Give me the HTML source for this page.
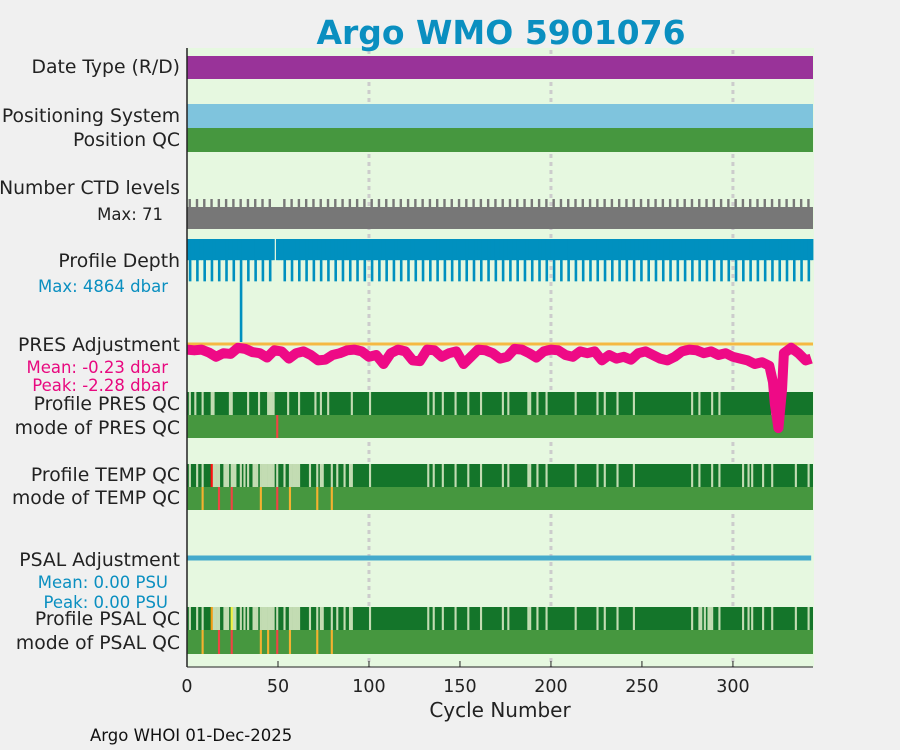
<!DOCTYPE html>
<html><head><meta charset="utf-8"><style>
body{margin:0;background:#f0f0f0;}
svg{display:block;font-family:"DejaVu Sans","Liberation Sans",sans-serif;}
</style></head><body>
<svg id="chart" width="900" height="750" viewBox="0 0 900 750">
<rect x="0" y="0" width="900" height="750" fill="#f0f0f0"/>
<rect x="187" y="48" width="627" height="619" fill="#e6f8e0"/>
<g id="grid"></g>
<g id="marks"></g>
<text x="501" y="44" text-anchor="middle" font-size="33" font-weight="bold" fill="#0a8fc0">Argo WMO 5901076</text>
<g font-size="18.8" fill="#222" text-anchor="end">
<text x="180" y="73">Date Type (R/D)</text>
<text x="180" y="122">Positioning System</text>
<text x="180" y="146">Position QC</text>
<text x="180" y="194">Number CTD levels</text>
<text x="163" y="220" font-size="16.5">Max: 71</text>
<text x="180" y="267">Profile Depth</text>
<text x="168" y="292" font-size="16.5" fill="#0a8fc0">Max: 4864 dbar</text>
<text x="180" y="351">PRES Adjustment</text>
<text x="168" y="373" font-size="16.5" fill="#e8087f">Mean: -0.23 dbar</text>
<text x="168" y="391" font-size="16.5" fill="#e8087f">Peak: -2.28 dbar</text>
<text x="180" y="410">Profile PRES QC</text>
<text x="180" y="434">mode of PRES QC</text>
<text x="180" y="481">Profile TEMP QC</text>
<text x="180" y="504">mode of TEMP QC</text>
<text x="180" y="566">PSAL Adjustment</text>
<text x="168" y="588" font-size="16.5" fill="#0a8fc0">Mean: 0.00 PSU</text>
<text x="168" y="608" font-size="16.5" fill="#0a8fc0">Peak: 0.00 PSU</text>
<text x="180" y="625">Profile PSAL QC</text>
<text x="180" y="649">mode of PSAL QC</text>
</g>
<text x="500" y="717" text-anchor="middle" font-size="20" fill="#222">Cycle Number</text>
<text x="90" y="741" font-size="16.5" fill="#111">Argo WHOI 01-Dec-2025</text>
<g id="axes"></g>
</svg>
<script>
const xTicks = [0,50,100,150,200,250,300];
const gridCycles = [100,200,300];
const nCycles = 344;
const depthDeepCycles = [1,5,9,13,17,21,25,29,33,37,41,45,53,57,61,65,69,73,77,81,85,89,93,97,101,105,109,113,117,121,125,129,133,137,141,145,149,153,157,161,165,169,173,177,181,185,189,193,197,201,205,209,213,217,221,225,229,233,237,241,245,249,253,257,261,265,269,273,277,281,285,289,293,297,301,305,309,313,317,321,325,329,333,337,341];
const depthMissing = [48];
const depthMaxCycle = [29];
const depthValues = [1000,2000,4864];
const ctdMaxCycles = depthDeepCycles;
const presCycles = [0,4,8,12,16,20,24,28,32,36,40,44,48,52,56,60,64,68,72,76,80,84,88,92,96,100,104,108,112,116,120,124,128,132,136,140,144,148,152,156,160,164,168,172,176,180,184,188,192,196,200,204,208,212,216,220,224,228,232,236,240,244,248,252,256,260,264,268,272,276,280,284,288,292,296,300,304,308,312,316,320,322,323,325,327,328,332,336,340,343];
const presAdj = [-0.1,-0.12,-0.1,-0.18,-0.3,-0.2,-0.22,-0.05,-0.08,-0.17,-0.2,-0.32,-0.12,-0.15,-0.35,-0.2,-0.15,-0.25,-0.4,-0.38,-0.25,-0.2,-0.12,-0.1,-0.15,-0.3,-0.25,-0.5,-0.2,-0.1,-0.15,-0.4,-0.42,-0.1,-0.12,-0.3,-0.2,-0.15,-0.5,-0.3,-0.1,-0.12,-0.2,-0.35,-0.3,-0.08,-0.1,-0.2,-0.32,-0.15,-0.1,-0.12,-0.25,-0.3,-0.15,-0.2,-0.15,-0.4,-0.25,-0.35,-0.3,-0.38,-0.2,-0.15,-0.25,-0.35,-0.4,-0.3,-0.15,-0.1,-0.12,-0.2,-0.15,-0.25,-0.2,-0.3,-0.35,-0.4,-0.5,-0.45,-0.55,-1.0,-1.6,-2.28,-1.2,-0.2,-0.05,-0.2,-0.4,-0.35];
const psalAdj = [0,0];
const psalCycles = [0,343];
const presQcLight = [1,4,8,13,14,23,24,33,39,44,45,46,47,55,61,70,73,77,90,100,132,135,140,147,154,161,173,176,187,188,192,197,213,225,229,236,245,277,281,288,292,321];
const tempQcLight = [1,5,8,14,15,16,17,20,21,22,24,25,26,29,31,33,36,37,38,40,41,42,43,44,45,46,47,49,53,56,57,58,59,60,61,67,71,73,74,79,82,86,89,90,100,132,135,140,147,154,161,173,176,187,188,192,197,213,225,229,236,245,277,281,288,292,305,308,310,316,321,334,341];
const tempQcBad = [13];
const psalQcLight = tempQcLight.concat([282,284,286,287]);
const psalQcProbable = [13];
const psalQcYellow = [24];
const presModeBad = [49];
const tempModeBad = [17,24,49];
const tempModeProbable = [8,40,56,71,79];
const psalModeBad = [17,24,49];
const psalModeProbable = [8,40,44,56,71,79];

const X0=187, X1=813, XMAX=344;
const xs = c => X0 + c*(X1-X0)/XMAX;
const cw = (X1-X0)/XMAX;
const NS='http://www.w3.org/2000/svg';
function mk(tag, attrs, parent){const e=document.createElementNS(NS,tag);for(const k in attrs)e.setAttribute(k,attrs[k]);parent.appendChild(e);return e;}
const grid=document.getElementById('grid'), marks=document.getElementById('marks'), axes=document.getElementById('axes');

gridCycles.forEach(c=>{
  const l=mk('line',{x1:xs(c),x2:xs(c),y1:50,y2:667,stroke:'#cccccc','stroke-width':3,'stroke-dasharray':'4 4'},grid);
  
  
});

function band(y,h,color,name){
  const r=mk('rect',{x:X0,y:y,width:X1-X0,height:h,fill:color},marks);
  
  
}
function strips(list,y,h,color,name){
  list.forEach(c=>{
    const r=mk('rect',{x:xs(c),y:y,width:cw+0.3,height:h,fill:color},marks);
    
    
  });
}
band(56,23,'#993399','date-type-bar');
band(104,24,'#7fc4dd','positioning-system-bar');
band(128,24,'#46973f','position-qc-bar');
band(207,22,'#777777','ctd-levels-bar');
ctdMaxCycles.forEach(c=>{
  const r=mk('rect',{x:xs(c)-0.3,y:199,width:2.4,height:8,fill:'#777777'},marks);
  
  
});

// profile depth
const dY0=239, dScale=103/4864;
for(let c=0;c<nCycles;c++){
  if(depthMissing.includes(c)) continue;
  let d=depthValues[0];
  if(depthMaxCycle.includes(c)) d=depthValues[2];
  else if(depthDeepCycles.includes(c)) d=depthValues[1];
  const r1=mk('rect',{x:xs(c)-0.2,y:dY0,width:cw+0.6,height:depthValues[0]*dScale,fill:'#0090bf'},marks);
  
  
  if(d>depthValues[0]){
    const r=mk('rect',{x:xs(c),y:dY0,width:2.6,height:d*dScale,fill:'#0090bf'},marks);
    
    
  }
}

// QC rows
band(392,23,'#14752a','pres-qc-bar');
strips(presQcLight,392,23,'#c3dcb3','pres-qc-flag');
band(415,23,'#46973f','pres-mode-bar');
strips(presModeBad,415,23,'#ef4444','pres-mode-bad');

band(464,23,'#14752a','temp-qc-bar');
strips(tempQcLight,464,23,'#c3dcb3','temp-qc-flag');
strips(tempQcBad,464,23,'#ff1010','temp-qc-bad');
band(487,23,'#46973f','temp-mode-bar');
strips(tempModeBad,487,23,'#ef4444','temp-mode-bad');
strips(tempModeProbable,487,23,'#f5b130','temp-mode-probable');

// PRES adjustment (drawn over QC bars)
const pY0=344, pScale=36;
const zl=mk('line',{x1:X0,x2:X1,y1:pY0,y2:pY0,stroke:'#f5b942','stroke-width':3},marks);


const pp=mk('polyline',{points:presCycles.map((c,i)=>xs(c)+','+(pY0+2-presAdj[i]*pScale)).join(' '),fill:'none',stroke:'#ee0a86','stroke-width':10,'stroke-linejoin':'round'},marks);



// PSAL adjustment
const sY0=558;
const sp=mk('polyline',{points:psalCycles.map((c,i)=>xs(c)+','+(sY0-psalAdj[i]*36)).join(' '),fill:'none',stroke:'#44aacc','stroke-width':5},marks);



band(607,23,'#14752a','psal-qc-bar');
strips(psalQcLight,607,23,'#c3dcb3','psal-qc-flag');
strips(psalQcProbable,607,23,'#f39c12','psal-qc-probable');
strips(psalQcYellow,607,23,'#f0f040','psal-qc-yellow');
band(630,24,'#46973f','psal-mode-bar');
strips(psalModeBad,630,24,'#ef4444','psal-mode-bad');
strips(psalModeProbable,630,24,'#f5b130','psal-mode-probable');

// axes
const ax=mk('line',{x1:X0,x2:X0,y1:48,y2:667,stroke:'#222','stroke-width':1.5},axes);


const bx=mk('line',{x1:X0,x2:X1,y1:667,y2:667,stroke:'#222','stroke-width':1},axes);


xTicks.forEach(t=>{
  const tk=mk('line',{x1:xs(t),x2:xs(t),y1:667,y2:661,stroke:'#222'},axes);
  
  
  const tx=mk('text',{x:xs(t),y:692,'text-anchor':'middle','font-size':17.5,fill:'#222'},axes);
  tx.textContent=t;
  
  
});
</script>
</body></html>
